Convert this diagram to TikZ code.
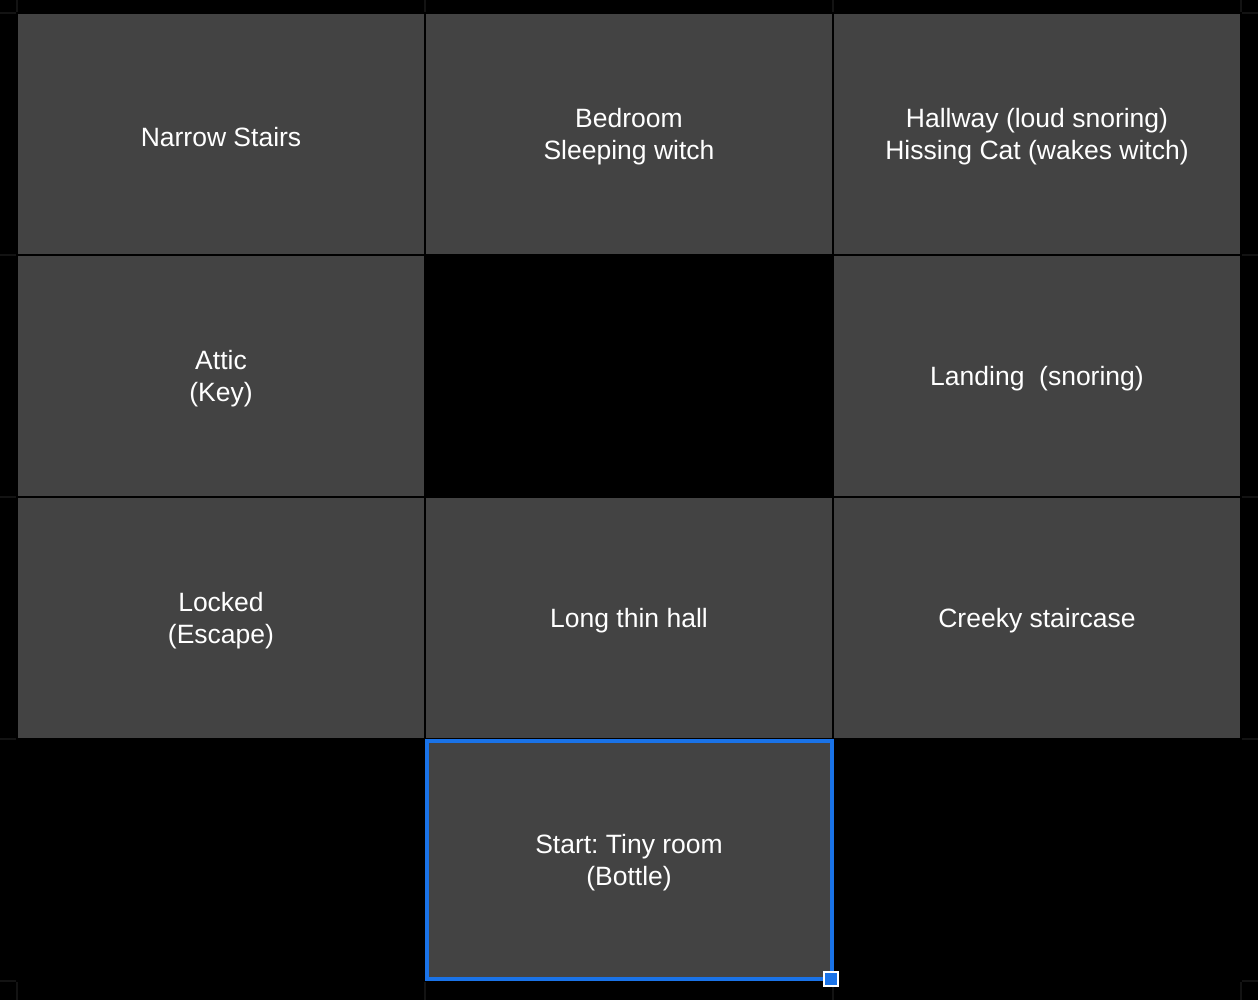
\documentclass[tikz,border=0pt]{standalone}
\usepackage{fontspec}
\setmainfont{Liberation Sans}
\frenchspacing
\definecolor{cellgray}{HTML}{434343}
\definecolor{gridfaint}{HTML}{131313}
\definecolor{selblue}{HTML}{1A73E8}
\begin{document}
\begin{tikzpicture}[x=1pt,y=-1pt,
  cell/.style={fill=cellgray, draw=none},
  label/.style={text=white, align=center, yshift=-3pt,
    font=\fontsize{26.5}{32}\selectfont},
  faint/.style={draw=gridfaint, line width=1.5pt}]
\fill[black] (0,0) rectangle (1258,1000);
\useasboundingbox (0,0) rectangle (1258,1000);
% faint spreadsheet gridlines in the margins only
\foreach \x in {17,425,833,1241} {\draw[faint] (\x,0) -- (\x,12); \draw[faint] (\x,982) -- (\x,1000);}
\foreach \y in {13,255,497,739,981} {\draw[faint] (0,\y) -- (16,\y); \draw[faint] (1242,\y) -- (1258,\y);}
% cells
\path[cell] (18,14) rectangle (424,254) node[midway,label] (c11) {Narrow Stairs};
\path[cell] (426,14) rectangle (832,254) node[midway,label] (c12) {Bedroom\\Sleeping witch};
\path[cell] (834,14) rectangle (1240,254) node[midway,label] (c13) {Hallway (loud snoring)\\Hissing Cat (wakes witch)};
\path[cell] (18,256) rectangle (424,496) node[midway,label] (c21) {Attic\\(Key)};
\path[cell] (834,256) rectangle (1240,496) node[midway,label] (c23) {Landing~~(snoring)};
\path[cell] (18,498) rectangle (424,738) node[midway,label] (c31) {Locked\\(Escape)};
\path[cell] (426,498) rectangle (832,738) node[midway,label] (c32) {Long thin hall};
\path[cell] (834,498) rectangle (1240,738) node[midway,label] (c33) {Creeky staircase};
\path[cell] (426,740) rectangle (832,980) node[midway,label] (c42) {Start: Tiny room\\(Bottle)};
% selection
\draw[selblue, line width=3.5pt] (427,741) rectangle (832,979);
\filldraw[fill=selblue, draw=white, line width=1.5pt] (824,972) rectangle (838,986);
\end{tikzpicture}
\end{document}
